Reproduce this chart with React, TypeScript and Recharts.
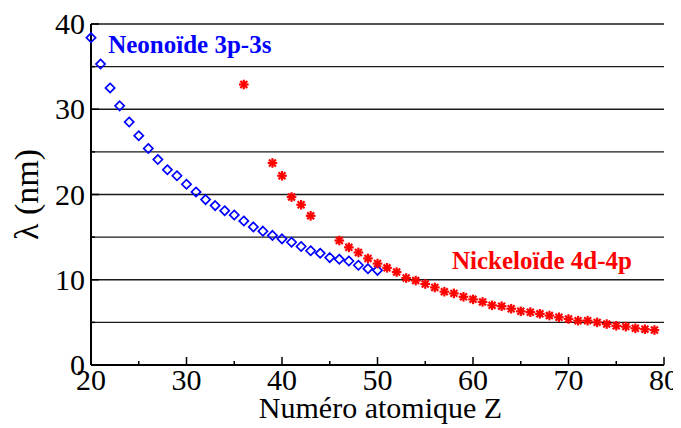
import React from "react";
import {
  ScatterChart,
  Scatter,
  XAxis,
  YAxis,
  CartesianGrid,
  ReferenceDot,
  Label,
} from "recharts";

// Longueurs d'onde lasers X : neonoïdes 3p-3s et nickeloïdes 4d-4p
const neonZ = [
  20, 21, 22, 23, 24, 25, 26, 27, 28, 29, 30, 31, 32, 33, 34, 35, 36, 37, 38,
  39, 40, 41, 42, 43, 44, 45, 46, 47, 48, 49, 50,
];
const neonLambda = [
  38.4, 35.3, 32.5, 30.4, 28.5, 26.9, 25.4, 24.1, 22.9, 22.2, 21.2, 20.3, 19.4,
  18.7, 18.1, 17.6, 16.9, 16.2, 15.7, 15.2, 14.8, 14.4, 13.9, 13.4, 13.1, 12.6,
  12.4, 12.2, 11.7, 11.3, 11.1,
];

const nickelZ = [
  36, 39, 40, 41, 42, 43, 46, 47, 48, 49, 50, 51, 52, 53, 54, 55, 56, 57, 58,
  59, 60, 61, 62, 63, 64, 65, 66, 67, 68, 69, 70, 71, 72, 73, 74, 75, 76, 77,
  78, 79,
];
const nickelLambda = [
  32.9, 23.7, 22.2, 19.7, 18.8, 17.5, 14.6, 13.8, 13.2, 12.5, 11.9, 11.4, 10.9,
  10.2, 9.9, 9.5, 9.1, 8.6, 8.4, 8.0, 7.7, 7.4, 7.0, 6.9, 6.6, 6.3, 6.2, 6.0,
  5.8, 5.6, 5.4, 5.2, 5.2, 5.0, 4.8, 4.6, 4.5, 4.3, 4.2, 4.1,
];

const xTicks = [20, 25, 30, 35, 40, 45, 50, 55, 60, 65, 70, 75, 80];
const yTicks = [0, 5, 10, 15, 20, 25, 30, 35, 40];

const neonData = neonZ.map((z, i) => ({ z, l: neonLambda[i] }));
const nickelData = nickelZ.map((z, i) => ({ z, l: nickelLambda[i] }));

const BLUE = "#0000ff";
const RED = "#ff0000";
const FONT = "Liberation Serif";
const txt = { fontFamily: '"Liberation Serif"' };

const Diamond = (p: any) => {
  const { cx, cy } = p;
  const r = 4.6;
  return (
    <path
      d={`M${cx},${cy - r}L${cx + r},${cy}L${cx},${cy + r}L${cx - r},${cy}Z`}
      fill="none"
      stroke={BLUE}
      strokeWidth={1.7}
    />
  );
};

const Star = (p: any) => {
  const { cx, cy } = p;
  const r = 4.8;
  const d = r * 0.72;
  return (
    <g stroke={RED} strokeWidth={2.2}>
      <line x1={cx - r} y1={cy} x2={cx + r} y2={cy} />
      <line x1={cx} y1={cy - r} x2={cx} y2={cy + r} />
      <line x1={cx - d} y1={cy - d} x2={cx + d} y2={cy + d} />
      <line x1={cx - d} y1={cy + d} x2={cx + d} y2={cy - d} />
    </g>
  );
};

const LeftTick = (p: any) => {
  const { x, y, payload } = p;
  const major = payload.value % 10 === 0;
  return (
    <g>
      <line x1={x} x2={x + (major ? 8 : 4)} y1={y} y2={y} stroke="#000" strokeWidth={1.5} />
      {major && (
        <text x={x - 6} y={y + 10} textAnchor="end" fontFamily={FONT} style={txt} fontSize={30} fill="#000">
          {payload.value}
        </text>
      )}
    </g>
  );
};

const BottomTick = (p: any) => {
  const { x, y, payload } = p;
  const major = payload.value % 10 === 0;
  return (
    <g>
      <line x1={x} x2={x} y1={y} y2={y - (major ? 8 : 4)} stroke="#000" strokeWidth={1.5} />
      {major && (
        <text x={x} y={y + 25} textAnchor="middle" fontFamily={FONT} style={txt} fontSize={30} fill="#000">
          {payload.value}
        </text>
      )}
    </g>
  );
};

const TopTick = (p: any) => {
  const { x, y, payload } = p;
  const major = payload.value % 10 === 0;
  return <line x1={x} x2={x} y1={y} y2={y + (major ? 8 : 4)} stroke="#000" strokeWidth={1.5} />;
};

const yLabel = (props: any) => {
  const vb = props.viewBox;
  const cx = vb.x + 30;
  const cy = vb.y + vb.height / 2;
  return (
    <text x={cx} y={cy} transform={`rotate(-90 ${cx} ${cy})`} textAnchor="middle"
      fontFamily={FONT} style={txt} fontSize={34} fill="#000">
      λ (nm)
    </text>
  );
};

const xLabel = (props: any) => {
  const vb = props.viewBox;
  return (
    <text x={vb.x + vb.width / 2 + 3} y={vb.y + 53} textAnchor="middle"
      fontFamily={FONT} style={txt} fontSize={30} fill="#000">
      Numéro atomique Z
    </text>
  );
};

const note = (text: string, color: string) => (props: any) => {
  const vb = props.viewBox;
  return (
    <text x={vb.x} y={vb.y} fontFamily={FONT} style={txt} fontWeight="bold" fontSize={25} fill={color}>
      {text}
    </text>
  );
};

export default function App() {
  return (
    <div style={{ width: 673, height: 420 }}>
      <ScatterChart width={673} height={420} margin={{ top: 16, right: 17, bottom: 0, left: 0 }}>
        <CartesianGrid horizontal vertical={false} stroke="#1a1a1a" strokeWidth={1.3} />
        <XAxis
          dataKey="z"
          type="number"
          domain={[20, 80]}
          ticks={xTicks}
          interval={0}
          height={63}
          tickSize={0}
          tickMargin={0}
          tickLine={false}
          tick={BottomTick}
          axisLine={{ stroke: "#000", strokeWidth: 2 }}
        >
          <Label content={xLabel} />
        </XAxis>
        <XAxis
          xAxisId="top"
          orientation="top"
          type="number"
          domain={[20, 80]}
          ticks={xTicks}
          interval={0}
          height={0}
          tickSize={0}
          tickMargin={0}
          tickLine={false}
          tick={TopTick}
          axisLine={{ stroke: "#000", strokeWidth: 2 }}
        />
        <YAxis
          dataKey="l"
          type="number"
          domain={[0, 40]}
          ticks={yTicks}
          interval={0}
          width={83}
          tickSize={0}
          tickMargin={0}
          tickLine={false}
          tick={LeftTick}
          axisLine={{ stroke: "#000", strokeWidth: 2 }}
        >
          <Label content={yLabel} />
        </YAxis>
        <YAxis
          yAxisId="right"
          orientation="right"
          type="number"
          domain={[0, 40]}
          ticks={yTicks}
          width={0}
          tick={false}
          tickLine={false}
          axisLine={{ stroke: "#000", strokeWidth: 2 }}
        />
        <Scatter data={neonData} shape={Diamond} isAnimationActive={false} />
        <Scatter data={nickelData} shape={Star} isAnimationActive={false} />
        <ReferenceDot x={21.8} y={36.6} r={0} stroke="none" fill="none"
          label={{ content: note("Neonoïde 3p-3s", BLUE) }} />
        <ReferenceDot x={57.8} y={11.26} r={0} stroke="none" fill="none"
          label={{ content: note("Nickeloïde 4d-4p", RED) }} />
      </ScatterChart>
    </div>
  );
}
